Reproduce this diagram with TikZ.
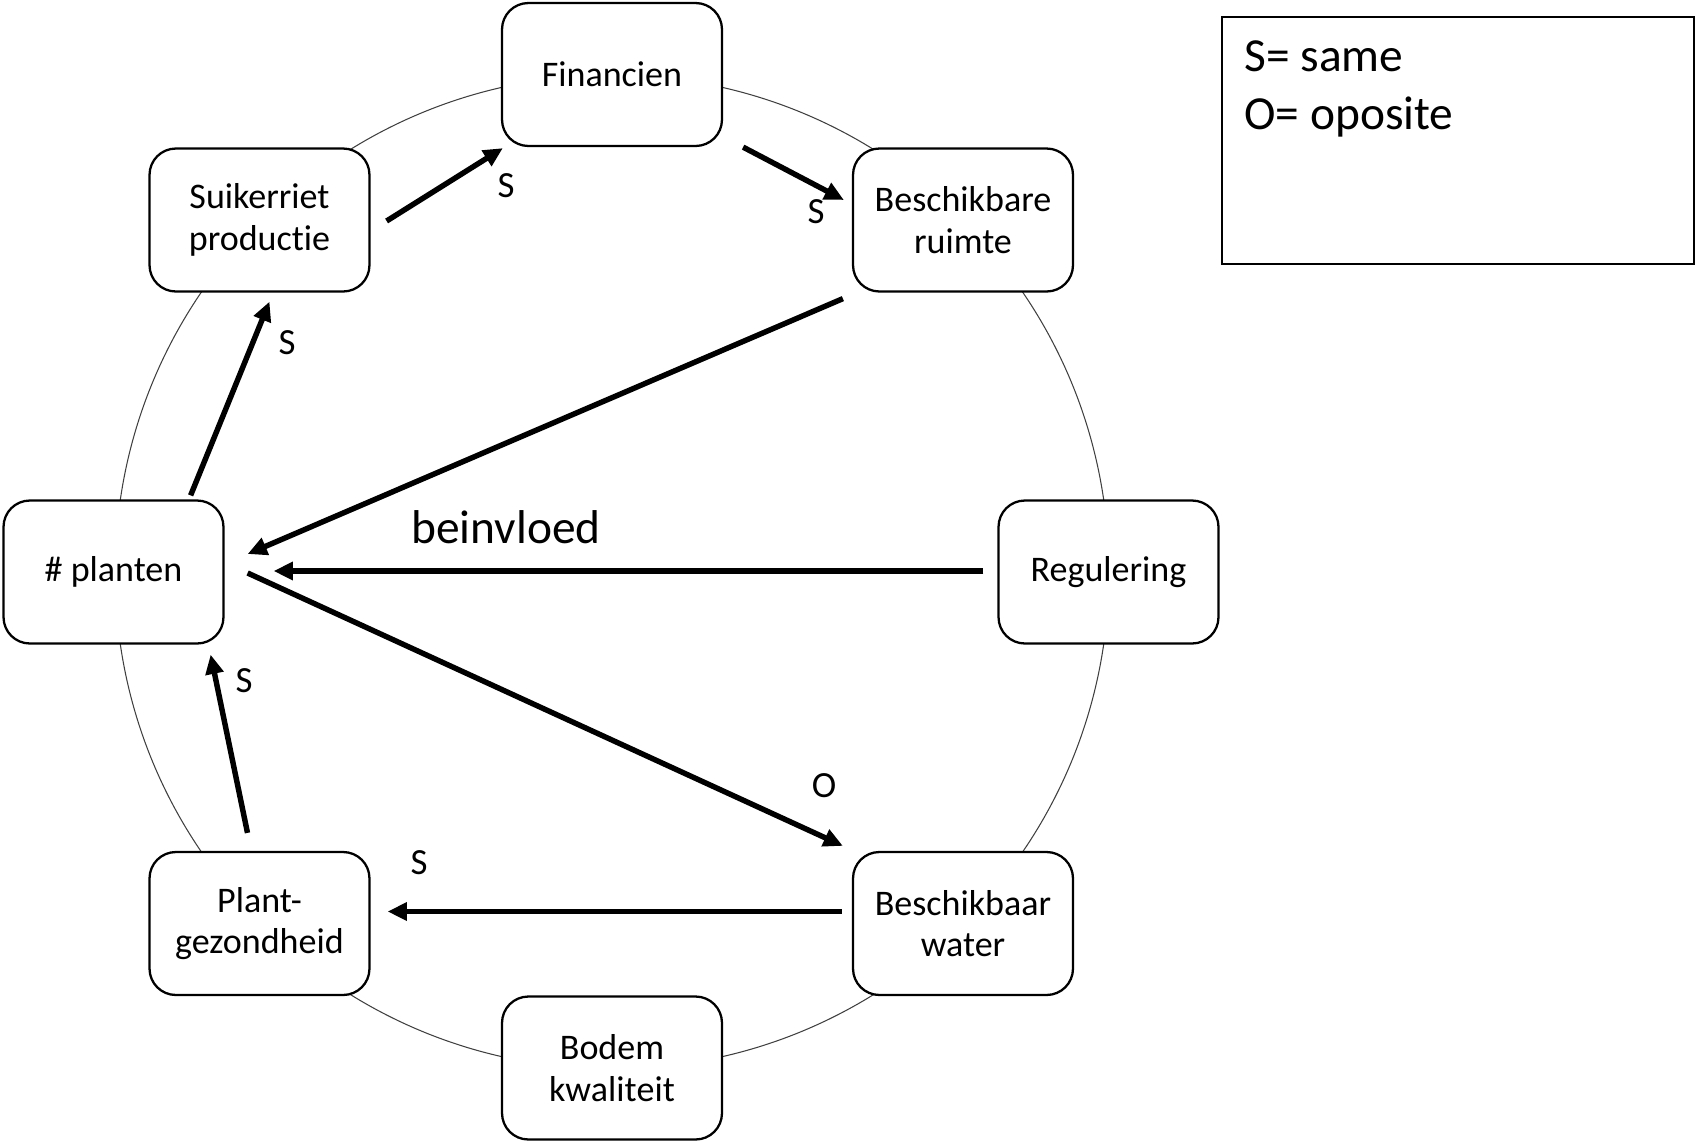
\documentclass[tikz,border=0pt]{standalone}
\usepackage{fontspec}
\setmainfont{Carlito}[Ligatures={NoCommon,NoRare,NoContextual}, Contextuals=NoAlternate, RawFeature={-liga;-dlig;-calt}]
\usetikzlibrary{arrows.meta}
\tikzset{
  box/.style={draw=black, line width=1.3pt, rounded corners=15pt, fill=white,
    minimum width=4.4cm, minimum height=2.86cm, align=center, inner sep=0pt,
    font=\fontsize{20.5}{23.5}\selectfont},
  conn/.style={line width=3.1pt, -{Triangle[length=11pt,width=10pt]}},
  lbl/.style={inner sep=0pt, font=\fontsize{21}{24}\selectfont},
  big/.style={inner sep=0pt, font=\fontsize{27}{32}\selectfont},
}
\begin{document}
\begin{tikzpicture}[x=0.02cm, y=-0.02cm]
\useasboundingbox (0,0) rectangle (1696,1140);
% ring
\draw[black!75, line width=0.6pt] (612,572) circle[radius=9.94cm];
% nodes
\node[box] (fin)  at (612,74.5)  {Financien};
\node[box] (suik) at (259.5,220) {Suikerriet\\produc\kern0pt tie};
\node[box] (rb)   at (963,220)   {Beschikbare\\ruimte};
\node[box] (pl)   at (113.5,572) {\# planten};
\node[box] (reg)  at (1108.5,572) {Regulering};
\node[box] (pg)   at (259.5,923.5) {Plant-\\gezondheid};
\node[box] (bw)   at (963,923.5) {Beschikbaar\\water};
\node[box] (bk)   at (612,1068)  {Bodem\\kwalit\kern0pt eit};
% legend
\node[draw=black, line width=1.3pt, minimum width=9.44cm, minimum height=4.94cm, inner sep=0pt] (leg) at (1458,140.5) {};
\node[big, anchor=base west] (leg1) at (1244,71) {S= same};
\node[big, anchor=base west] (leg2) at (1244,129) {O= oposite};
% connectors
\draw[conn] ([shift={(16,1)}]suik.east) -- ([shift={(2,1)}]fin.south west);
\draw[conn] ([shift={(20,0)}]fin.south east) -- ([shift={(-8,-20)}]rb.west);
\draw[conn] ([shift={(-9,6)}]rb.south west) -- ([shift={(23,-18)}]pl.east);
\draw[conn] ([shift={(-14,-1)}]reg.west) -- ([shift={(49,-1)}]pl.east);
\draw[conn] ([shift={(23,1)}]pl.east) -- ([shift={(-9,-5)}]bw.north west);
\draw[conn] ([shift={(-10,-12)}]bw.west) -- ([shift={(17,-12)}]pg.east);
\draw[conn] ([shift={(-12,-18)}]pg.north) -- ([shift={(-14,10)}]pl.south east);
\draw[conn] ([shift={(-34,-4)}]pl.north east) -- ([shift={(10,9)}]suik.south);
% labels
\node[lbl] (l1) at (506,186) {S};
\node[lbl] (l2) at (816,212) {S};
\node[lbl] (l3) at (287,343) {S};
\node[big, anchor=base] (l4) at (506,543) {beinvloed};
\node[lbl] (l5) at (824,786) {O};
\node[lbl] (l6) at (419,863) {S};
\node[lbl] (l7) at (244,681) {S};
\end{tikzpicture}
\end{document}
